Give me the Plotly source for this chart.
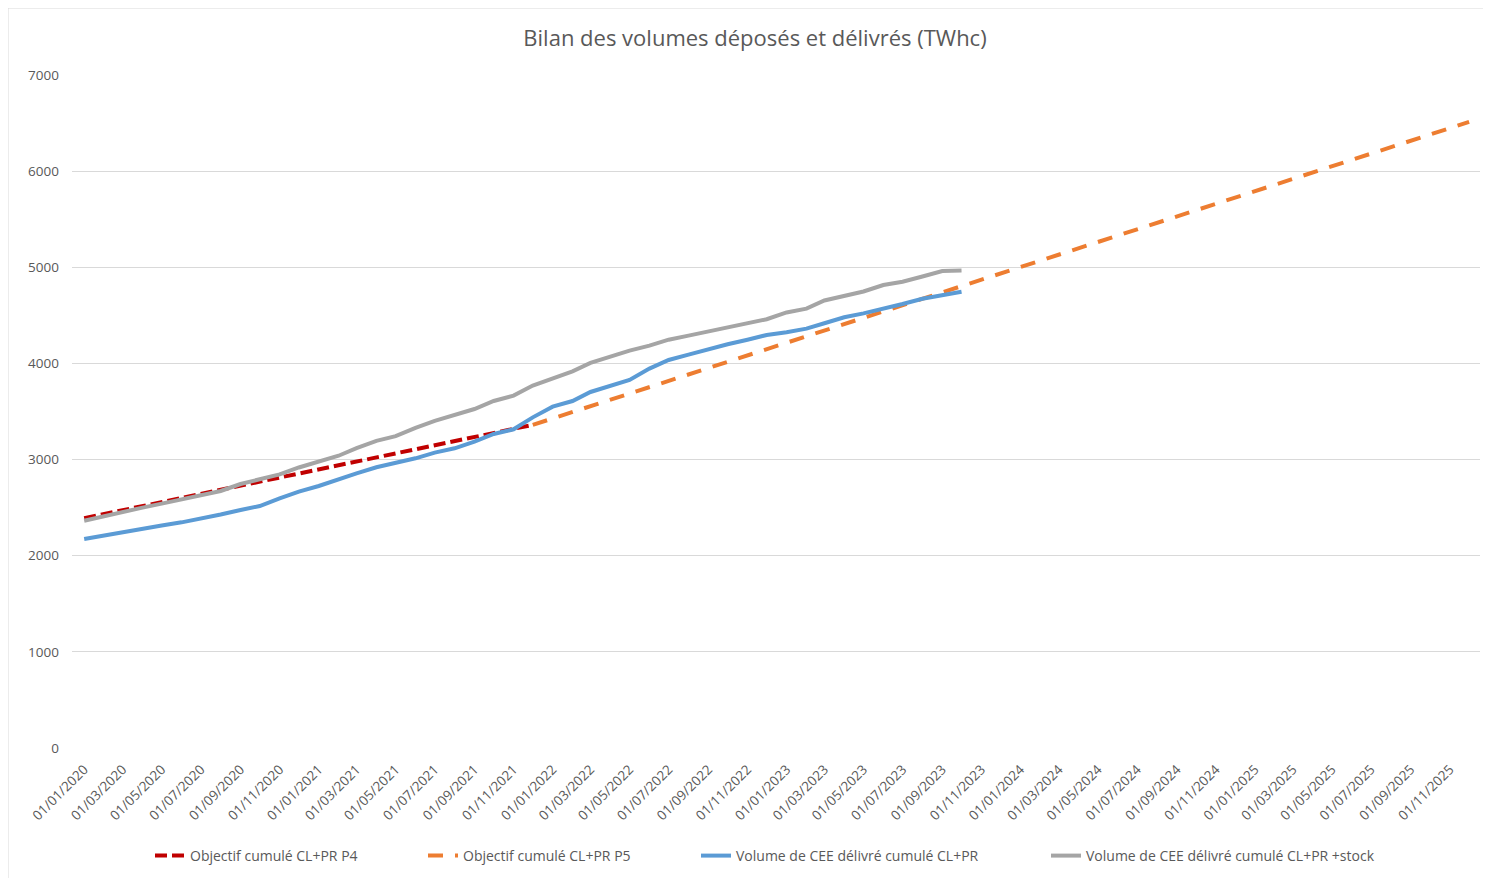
import pandas as pd
import plotly.graph_objects as go

# ---- data ----
months = pd.date_range("2020-01-01", "2025-12-01", freq="MS")
delivered_dates = months[:46]  # Jan 2020 .. Oct 2023

delivered = [2174, 2211, 2250, 2286, 2315, 2347, 2384, 2429, 2476, 2517,
             2597, 2666, 2725, 2798, 2857, 2920, 2968, 3013, 3072, 3117,
             3186, 3266, 3315, 3439, 3550, 3609, 3703, 3769, 3828, 3946,
             4036, 4091, 4150, 4199, 4247, 4296, 4324, 4362, 4418, 4480,
             4521, 4566, 4618, 4673, 4705, 4746]

delivered_stock = [2364, 2413, 2456, 2500, 2542, 2586, 2628, 2673, 2746, 2795,
                   2846, 2918, 2979, 3040, 3118, 3195, 3243, 3330, 3402, 3463,
                   3526, 3609, 3665, 3770, 3845, 3918, 4005, 4072, 4133, 4185,
                   4247, 4289, 4333, 4374, 4416, 4460, 4530, 4570, 4655, 4700,
                   4748, 4816, 4850, 4904, 4961, 4966]

p4_dates = ["2020-01-01", "2021-01-01", "2021-12-01"]
p4_values = [2390, 2895, 3361]

p5_dates = ["2021-12-01", "2023-01-01", "2024-01-01", "2025-01-01", "2025-12-01"]
p5_values = [3361, 4215, 5003, 5790, 6512]

tick_dates = months[::2]
tick_labels = [d.strftime("%d/%m/%Y") for d in tick_dates]

names = ["Objectif cumulé CL+PR P4", "Objectif cumulé CL+PR P5",
         "Volume de CEE délivré cumulé CL+PR", "Volume de CEE délivré cumulé CL+PR +stock"]

FONT = "Open Sans"
TXT = "#595959"

fig = go.Figure()
fig.add_trace(go.Scatter(x=p4_dates, y=p4_values, mode="lines", name=names[0],
                         line=dict(color="#C00000", width=4, dash="12px,5px"),
                         legend="legend"))
fig.add_trace(go.Scatter(x=p5_dates, y=p5_values, mode="lines", name=names[1],
                         line=dict(color="#ED7D31", width=4, dash="15px,12px"),
                         legend="legend2"))
fig.add_trace(go.Scatter(x=list(delivered_dates), y=delivered, mode="lines", name=names[2],
                         line=dict(color="#5B9BD5", width=4),
                         legend="legend3"))
fig.add_trace(go.Scatter(x=list(delivered_dates), y=delivered_stock, mode="lines", name=names[3],
                         line=dict(color="#A5A5A5", width=4),
                         legend="legend4"))

# page body has an 8px margin: design in page pixels, then shift by -8
OFF = 8
L, R, T, B = 72 - OFF, 1480 - OFF, 75 - OFF, 748 - OFF
W, H = 1491 - OFF, 878 - OFF

def px2paper_x(px):
    return (px - OFF - L) / (R - L)

def py2paper_y(py):
    return (B - (py - OFF)) / (B - T)

leg_common = dict(orientation="h", xanchor="left", yanchor="middle",
                  yref="container",
                  font=dict(family=FONT, size=14, color=TXT),
                  bgcolor="rgba(0,0,0,0)", itemwidth=30, tracegroupgap=0)
leg_y = 1 - (856 - OFF) / H

fig.update_layout(
    width=W, height=H,
    margin=dict(l=L, r=W - R, t=T, b=H - B),
    paper_bgcolor="white", plot_bgcolor="white",
    title=dict(text="Bilan des volumes déposés et délivrés (TWhc)",
               x=(755 - OFF) / W, xref="container", xanchor="center",
               y=1 - (38 - OFF) / H, yref="container", yanchor="middle",
               font=dict(family=FONT, size=22, color=TXT)),
    showlegend=True,
    legend=dict(x=px2paper_x(150), y=leg_y, **leg_common),
    legend2=dict(x=px2paper_x(423), y=leg_y, **leg_common),
    legend3=dict(x=px2paper_x(696), y=leg_y, **leg_common),
    legend4=dict(x=px2paper_x(1046), y=leg_y, **leg_common),
    xaxis=dict(type="date", range=["2019-12-13", "2025-12-18"],
               tickmode="array", tickvals=list(tick_dates), ticktext=tick_labels,
               tickangle=-45, showgrid=False, zeroline=False, showline=False,
               ticks="", ticklabelstandoff=10, automargin=False,
               tickfont=dict(family=FONT, size=13.5, color=TXT)),
    yaxis=dict(range=[0, 7000], dtick=1000, tick0=0, showgrid=True,
               gridcolor="#D9D9D9", gridwidth=1, zeroline=False, showline=False,
               ticks="", ticklabelstandoff=12, automargin=False,
               tickfont=dict(family=FONT, size=13.5, color=TXT)),
    shapes=[
        dict(type="line", xref="paper", yref="paper",
             x0=px2paper_x(8), x1=px2paper_x(8), y0=py2paper_y(8), y1=py2paper_y(878),
             line=dict(color="#D9D9D9", width=1)),
        dict(type="line", xref="paper", yref="paper",
             x0=px2paper_x(8), x1=px2paper_x(1491), y0=py2paper_y(8), y1=py2paper_y(8),
             line=dict(color="#D9D9D9", width=1)),
    ],
)

fig.write_html("out.html")
